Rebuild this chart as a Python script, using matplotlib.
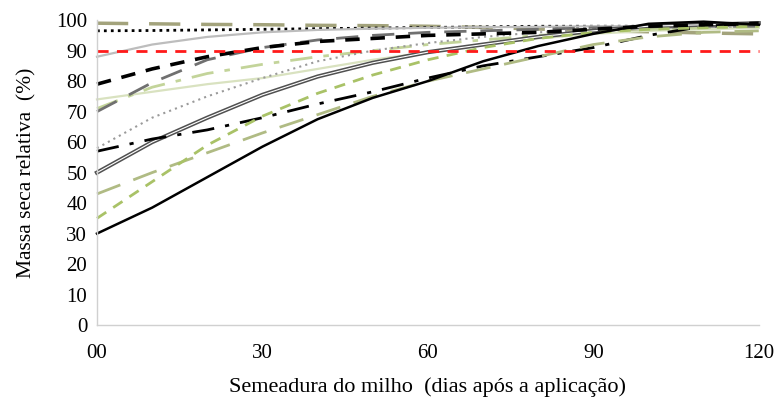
import numpy as np
import matplotlib.pyplot as plt

plt.rcParams['font.family'] = ['Liberation Serif', 'DejaVu Serif']

# Days after application
dias = [0, 10, 20, 30, 40, 50, 60, 70, 80, 90, 100, 110, 120]
xticks = [0, 30, 60, 90, 120]
xticklabels = ['00', '30', '60', '90', '120']

# Relative dry mass (%) curves
solid_black = [30, 38.5, 48.5, 58.5, 67.5, 74.5, 80, 86.5, 91.5, 95.5, 98.8, 99.5, 98.5]
green_short = [35, 47, 59, 68.5, 76, 82, 87, 91, 94, 96, 97, 97.5, 98]
green_long = [43, 50, 56.5, 63, 69, 75, 80, 84, 88, 92, 94.5, 96, 96.5]
double_gray = [50, 60, 68, 75.5, 81.5, 86, 89.5, 92, 94.5, 96.5, 98, 98.5, 99]
dashdot_black = [57, 61, 64, 68, 72.5, 76.5, 81, 85, 88, 91, 95, 98, 99]
dotted_gray = [58, 68, 75, 81, 86.5, 90, 92.5, 94.5, 96, 97, 98, 98.5, 99]
dash_gray = [70, 79.5, 87, 91, 93.5, 95, 96, 96.5, 97, 97.5, 97.5, 98, 98]
dashdot_green = [71, 78, 82.5, 85.5, 88, 90, 92, 93.5, 95, 96, 97, 97.5, 98]
light_solid = [74, 76.5, 79, 81, 84, 87, 89.5, 92, 94, 95.5, 96.5, 97, 97.5]
dash_black = [79, 84, 88, 91, 93, 94, 95, 95.5, 96, 97, 98, 98.5, 99]
solid_gray = [88, 92, 94.5, 96, 96.8, 97.2, 97.5, 97.7, 97.8, 98, 98, 98, 98]
dotted_black = [96.5, 96.6, 96.8, 97, 97.2, 97.4, 97.6, 97.8, 98, 98, 98, 98, 98]
olive_long = [99, 98.8, 98.6, 98.5, 98.3, 98.2, 98, 97.6, 97.1, 96.5, 96.2, 95.8, 95.5]
ref_line = [90] * len(dias)

fig = plt.figure(figsize=(7.79, 4.03), dpi=100)
ax = fig.add_axes([0.1245, 0.1935, 0.8495, 0.7565])

ax.plot(dias, olive_long, color='#a3a37c', lw=2.5, dashes=(9, 6), clip_on=False)
ax.plot(dias, dotted_black, color='black', lw=2, linestyle=(0, (1, 1.5)), clip_on=False)
ax.plot(dias, solid_gray, color='#bdbdbd', lw=1.6, clip_on=False)
ax.plot(dias, light_solid, color='#d9e2c0', lw=1.6, clip_on=False)
ax.plot(dias, dashdot_green, color='#c3d49a', lw=2, dashes=(8, 4, 2, 4), clip_on=False)
ax.plot(dias, dash_gray, color='#707070', lw=2, dashes=(8, 5), clip_on=False)
ax.plot(dias, dotted_gray, color='#9a9a9a', lw=1.5, linestyle=(0, (1, 2)), clip_on=False)
ax.plot(dias, double_gray, color='#505050', lw=3, clip_on=False)
ax.plot(dias, double_gray, color='white', lw=0.8, clip_on=False)
ax.plot(dias, dashdot_black, color='black', lw=2, dashes=(8, 4, 1.5, 4), clip_on=False)
ax.plot(dias, green_long, color='#b0bb84', lw=2, dashes=(9, 5), clip_on=False)
ax.plot(dias, green_short, color='#a9c267', lw=2, dashes=(4, 3), clip_on=False)
ax.plot(dias, solid_black, color='black', lw=1.8, clip_on=False)
ax.plot(dias, dash_black, color='black', lw=2.6, dashes=(4, 3), clip_on=False)
ax.plot(dias, ref_line, color='#ff1a1a', lw=2, dashes=(4, 3), clip_on=False)

ax.set_xlim(0, 120)
ax.set_ylim(0, 100)
ax.set_xticks(xticks)
ax.set_xticklabels(xticklabels)
ax.set_yticks(range(0, 101, 10))
ax.tick_params(axis='y', length=0, labelsize=15, pad=7)
ax.tick_params(axis='x', length=0, labelsize=15, pad=14)
for s in ['top', 'right']:
    ax.spines[s].set_visible(False)
for s in ['left', 'bottom']:
    ax.spines[s].set_color('#d0d0d0')
    ax.spines[s].set_linewidth(1)

ax.set_xlabel('Semeadura do milho  (dias após a aplicação)', fontsize=16, labelpad=10)
ax.set_ylabel('Massa seca relativa  (%)', fontsize=15.5, labelpad=14)

fig.savefig('out.png', dpi=100)
